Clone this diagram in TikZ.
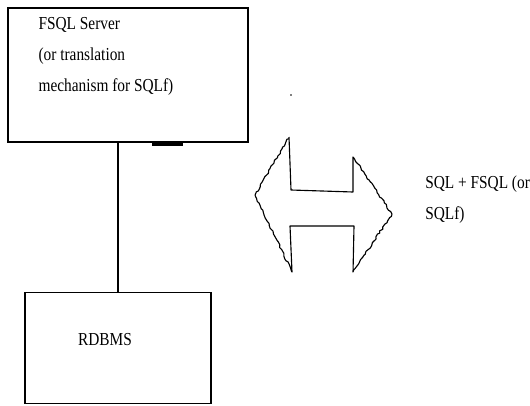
\documentclass[tikz,border=0pt]{standalone}
\usepackage{fontspec}
\newfontfamily\diagfont[FakeStretch=0.84]{Liberation Serif}
\usetikzlibrary{decorations.pathmorphing}

\begin{document}
\begin{tikzpicture}[box/.style={draw, line width=1pt, inner sep=0pt},
  txt/.style={inner sep=0pt, align=left, font=\diagfont\fontsize{13}{22}\selectfont},
  jag/.style={decoration={random steps, segment length=1.8pt, amplitude=0.65pt}}]
  \pgfmathsetseed{7}
  \useasboundingbox (0,0) rectangle (13.25,-10.125);
  % boxes
  \node[box, minimum width=6cm, minimum height=3.35cm] (server) at (3.2,-1.875) {};
  \node[txt, anchor=north west] (servertxt) at ([shift={(0.775,-0.25)}]server.north west)
    {FSQL Server\\(or translation\\mechanism for SQLf)};
  \node[box, minimum width=4.65cm, minimum height=2.775cm] (rdbms) at (2.95,-8.7) {};
  \node[txt] (rdbmstxt) at (2.625,-8.5) {RDBMS};
  \draw[line width=1pt] (rdbms.north) -- (rdbms.north |- server.south);
  \draw[line width=2.2pt] (3.8,-3.6) -- (4.575,-3.6);

  % double arrow, hand drawn
  \draw[line width=0.8pt, line join=round, jag] (7.225,-3.425) -- (7.275,-4.75) -- (8.825,-4.8)
    -- (8.825,-3.925) decorate{-- (9.8,-5.35) -- (8.825,-6.8)} -- (8.85,-5.65) -- (7.25,-5.65)
    -- (7.3,-6.8) decorate{-- (6.375,-4.875) -- (7.225,-3.425)};
  \fill (7.275,-2.375) circle (0.7pt);
  \node[txt, anchor=north west] (query) at (10.625,-4.4) {SQL + FSQL (or\\SQLf)};
\end{tikzpicture}
\end{document}
